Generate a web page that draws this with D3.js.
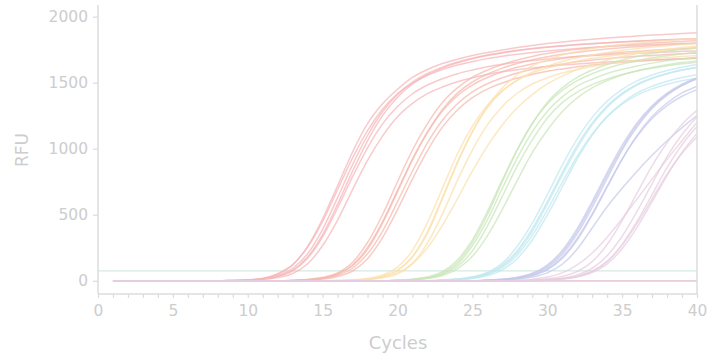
<!DOCTYPE html>
<html>
<head>
<meta charset="utf-8">
<script src="https://cdn.jsdelivr.net/npm/d3@7"></script>
<style>
  body { margin: 0; background: #fff; }
  svg { display: block; font-family: "DejaVu Sans", Verdana, sans-serif; }
</style>
</head>
<body>
<svg id="chart" width="717" height="353"></svg>
<script>
const cycles = [1,2,3,4,5,6,7,8,9,10,11,12,13,14,15,16,17,18,19,20,21,22,23,24,25,26,27,28,29,30,31,32,33,34,35,36,37,38,39,40];
const xTickLabels = [0, 5, 10, 15, 20, 25, 30, 35, 40];
const yTickLabels = [0, 500, 1000, 1500, 2000];
const threshold = 75;

// RFU per cycle (1..40)
const group1 = [
  [0,0,0,0,0,0,0,0,3,6,16,50,120,260,470,720,975,1190,1340,1450,1540,1600,1645,1678,1705,1728,1748,1766,1782,1796,1808,1819,1829,1838,1846,1853,1860,1866,1872,1877],
  [0,0,0,0,0,0,0,0,2,5,14,35,80,180,350,580,830,1060,1250,1390,1490,1560,1610,1650,1680,1705,1725,1742,1756,1768,1778,1787,1795,1802,1808,1814,1819,1824,1828,1832],
  [0,0,0,0,0,0,0,0,2,5,13,33,76,171,333,551,789,1007,1188,1320,1416,1482,1530,1568,1596,1620,1639,1655,1668,1680,1689,1698,1705,1712,1718,1723,1728,1733,1737,1740],
  [0,0,0,0,0,0,0,0,3,7,20,54,122,255,450,690,930,1137,1299,1416,1497,1555,1599,1634,1659,1682,1700,1716,1729,1740,1750,1759,1766,1773,1779,1784,1789,1793,1797,1800],
  [0,0,0,0,0,0,0,0,0,4,9,24,55,129,267,460,690,911,1095,1242,1343,1417,1467,1507,1537,1562,1582,1598,1612,1623,1633,1641,1649,1656,1662,1667,1672,1676,1681,1685],
  [0,0,0,0,0,0,0,0,0,6,15,42,95,205,390,630,880,1100,1280,1410,1505,1570,1618,1656,1685,1709,1728,1745,1759,1770,1780,1789,1796,1803,1809,1815,1820,1825,1829,1833]
];
const group2 = [
  [0,0,0,0,0,0,0,0,0,0,0,0,3,9,21,53,121,252,446,684,922,1125,1285,1402,1482,1539,1583,1617,1642,1665,1682,1698,1709,1720,1730,1737,1745,1751,1757,1762],
  [0,0,0,0,0,0,0,0,0,0,0,0,0,6,17,42,95,204,375,599,831,1045,1216,1340,1430,1492,1537,1573,1601,1624,1642,1658,1671,1682,1691,1700,1706,1713,1719,1724],
  [0,0,0,0,0,0,0,0,0,0,0,0,4,10,26,60,140,290,500,750,990,1190,1350,1460,1540,1595,1638,1671,1698,1720,1737,1752,1764,1775,1784,1792,1800,1806,1812,1818],
  [0,0,0,0,0,0,0,0,0,0,0,0,2,5,13,33,74,167,326,539,772,986,1163,1293,1386,1451,1497,1535,1562,1586,1604,1620,1633,1644,1654,1662,1669,1676,1681,1687],
  [0,0,0,0,0,0,0,0,0,0,0,0,0,8,20,50,114,238,436,673,916,1124,1297,1421,1505,1564,1610,1645,1673,1696,1715,1731,1743,1754,1764,1772,1780,1787,1793,1798]
];
const group3 = [
  [0,0,0,0,0,0,0,0,0,0,0,0,0,0,0,2,5,14,35,80,185,370,630,900,1130,1310,1435,1520,1580,1625,1660,1688,1710,1729,1745,1758,1769,1779,1788,1795],
  [0,0,0,0,0,0,0,0,0,0,0,0,0,0,0,4,7,18,45,103,230,440,700,960,1170,1330,1440,1518,1572,1610,1640,1664,1684,1700,1714,1726,1736,1745,1753,1761],
  [0,0,0,0,0,0,0,0,0,0,0,0,0,0,0,0,4,9,24,52,130,285,505,760,990,1180,1320,1420,1490,1537,1573,1600,1623,1642,1657,1670,1681,1690,1698,1704],
  [0,0,0,0,0,0,0,0,0,0,0,0,0,0,0,0,4,10,25,60,130,250,420,620,830,1020,1180,1310,1410,1490,1550,1600,1640,1672,1698,1720,1738,1753,1766,1777],
  [0,0,0,0,0,0,0,0,0,0,0,0,0,0,0,0,5,13,32,77,180,360,620,890,1130,1320,1460,1560,1627,1675,1710,1737,1758,1775,1789,1801,1811,1820,1827,1833]
];
const group4 = [
  [0,0,0,0,0,0,0,0,0,0,0,0,0,0,0,0,0,0,0,4,9,23,53,125,264,461,701,931,1128,1282,1392,1474,1526,1569,1601,1627,1648,1666,1680,1692],
  [0,0,0,0,0,0,0,0,0,0,0,0,0,0,0,0,0,0,0,4,12,29,69,157,309,524,764,995,1191,1338,1441,1515,1568,1609,1641,1666,1688,1704,1718,1731],
  [0,0,0,0,0,0,0,0,0,0,0,0,0,0,0,0,0,0,0,3,8,19,47,108,226,414,639,870,1067,1231,1349,1429,1485,1528,1562,1589,1610,1628,1643,1655],
  [0,0,0,0,0,0,0,0,0,0,0,0,0,0,0,0,0,0,0,3,7,17,40,90,185,340,540,760,970,1140,1280,1385,1460,1515,1558,1590,1615,1636,1652,1665],
  [0,0,0,0,0,0,0,0,0,0,0,0,0,0,0,0,0,0,0,4,10,26,60,140,290,500,750,990,1190,1350,1460,1540,1595,1638,1671,1698,1720,1737,1752,1764]
];
const group5 = [
  [0,0,0,0,0,0,0,0,0,0,0,0,0,0,0,0,0,0,0,0,0,0,5,11,24,53,110,215,375,580,800,1005,1180,1315,1412,1482,1531,1567,1594,1615],
  [0,0,0,0,0,0,0,0,0,0,0,0,0,0,0,0,0,0,0,0,0,0,6,13,30,64,134,261,436,651,874,1074,1237,1360,1450,1514,1558,1592,1617,1637],
  [0,0,0,0,0,0,0,0,0,0,0,0,0,0,0,0,0,0,0,0,0,0,3,8,17,40,83,169,309,497,710,922,1101,1243,1346,1422,1473,1511,1539,1562],
  [0,0,0,0,0,0,0,0,0,0,0,0,0,0,0,0,0,0,0,0,0,0,5,11,26,57,119,230,395,600,820,1025,1195,1325,1420,1488,1535,1570,1597,1617],
  [0,0,0,0,0,0,0,0,0,0,0,0,0,0,0,0,0,0,0,0,0,0,4,10,22,48,100,196,344,536,745,943,1112,1243,1338,1406,1453,1488,1514,1534]
];
const group6 = [
  [0,0,0,0,0,0,0,0,0,0,0,0,0,0,0,0,0,0,0,0,0,0,0,0,0,4,10,21,47,100,200,355,555,775,990,1165,1305,1405,1477,1527],
  [0,0,0,0,0,0,0,0,0,0,0,0,0,0,0,0,0,0,0,0,0,0,0,0,0,5,11,26,57,119,230,395,600,820,1025,1195,1325,1420,1488,1535],
  [0,0,0,0,0,0,0,0,0,0,0,0,0,0,0,0,0,0,0,0,0,0,0,0,0,3,8,18,40,83,169,309,497,710,922,1101,1243,1346,1422,1473],
  [0,0,0,0,0,0,0,0,0,0,0,0,0,0,0,0,0,0,0,0,0,0,0,0,0,4,8,18,41,89,179,321,507,716,920,1093,1228,1326,1397,1447],
  [0,0,0,0,0,0,0,0,0,0,0,0,0,0,0,0,0,0,0,0,0,0,0,0,0,5,11,24,53,110,215,375,580,800,1005,1180,1315,1412,1482,1531],
  [0,0,0,0,0,0,0,0,0,0,0,0,0,0,0,0,0,0,0,0,0,0,0,0,0,0,5,12,28,60,125,240,400,560,700,830,950,1060,1160,1250]
];
const group7 = [
  [0,0,0,0,0,0,0,0,0,0,0,0,0,0,0,0,0,0,0,0,0,0,0,0,0,0,0,0,7,15,33,70,145,275,455,665,870,1045,1185,1290],
  [0,0,0,0,0,0,0,0,0,0,0,0,0,0,0,0,0,0,0,0,0,0,0,0,0,0,0,0,4,10,20,45,95,190,337,527,736,940,1107,1240],
  [0,0,0,0,0,0,0,0,0,0,0,0,0,0,0,0,0,0,0,0,0,0,0,0,0,0,0,0,0,6,15,34,72,147,276,451,653,856,1030,1168],
  [0,0,0,0,0,0,0,0,0,0,0,0,0,0,0,0,0,0,0,0,0,0,0,0,0,0,0,0,0,5,13,29,63,128,243,405,599,797,972,1116],
  [0,0,0,0,0,0,0,0,0,0,0,0,0,0,0,0,0,0,0,0,0,0,0,0,0,0,0,5,12,28,60,120,210,330,470,620,770,920,1060,1200],
  [0,0,0,0,0,0,0,0,0,0,0,0,0,0,0,0,0,0,0,0,0,0,0,0,0,0,0,0,0,7,14,34,72,146,268,434,621,808,965,1088]
];
const negatives = [
  [0,0,0,0,0,0,0,0,0,0,0,0,0,0,0,0,0,0,0,0,0,0,0,0,0,0,0,0,0,0,0,0,0,0,0,0,0,0,0,0],
  [-2,-2,-1,-1,-1,-2,-2,-1,-1,-1,-2,-2,-2,-1,-1,-1,-1,-2,-2,-2,-1,-1,-1,-2,-2,-1,-1,-1,-2,-2,-1,-1,-1,-1,-2,-2,-1,-1,-1,-1]
];

const groups = [group1, group2, group3, group4, group5, group6, group7];
const groupColors = ["#f5b5b9", "#f5b9ae", "#fbe0ac", "#c9e6b8", "#bfe7f0", "#c6c9ea", "#e7cde1"];

const svg = d3.select("#chart");
const x = d3.scaleLinear().domain([0, 40]).range([98, 697]);
const y = d3.scaleLinear().domain([-100, 2088]).range([294, 5]);

const axisColor = "#dcdcdc";
const textColor = "#cdcdcd";

// threshold
svg.append("line")
  .attr("x1", x(0)).attr("x2", x(40))
  .attr("y1", y(threshold)).attr("y2", y(threshold))
  .attr("stroke", "#d5e9e1").attr("stroke-width", 1.4);

const line = d3.line()
  .x((d, i) => x(cycles[i]))
  .y(d => y(d))
  .curve(d3.curveMonotoneX);

// negatives
negatives.forEach((vals, i) => {
  svg.append("path")
    .attr("d", line(vals))
    .attr("fill", "none")
    .attr("stroke", i === 0 ? "#f1c3c6" : "#e5d0e2")
    .attr("stroke-width", 1.5)
    .attr("stroke-opacity", 0.9);
});

groups.forEach((g, gi) => {
  g.forEach(vals => {
    svg.append("path")
      .attr("d", line(vals))
      .attr("fill", "none")
      .attr("stroke", groupColors[gi])
      .attr("stroke-width", 1.5)
      .attr("stroke-opacity", 0.72);
  });
});

// axes
const yAxis = svg.append("g")
  .attr("transform", `translate(${x(0)},0)`)
  .call(d3.axisLeft(y).tickValues(yTickLabels).tickFormat(d3.format("d"))
    .tickSize(5).tickPadding(5));
const xAxis = svg.append("g")
  .attr("transform", `translate(0,${y(-100)})`)
  .call(d3.axisBottom(x).tickValues(cycles.concat([0]))
    .tickFormat(d => xTickLabels.includes(d) ? d : "")
    .tickSize(4).tickPadding(7));

[yAxis, xAxis].forEach(a => {
  a.attr("font-family", null).attr("font-size", null);
  a.select(".domain").attr("stroke", axisColor).attr("stroke-width", 1.5);
  a.selectAll(".tick line").attr("stroke", axisColor).attr("stroke-width", 1.2);
  a.selectAll(".tick text").attr("fill", textColor)
    .style("font-size", "15.5px")
    .style("font-family", "'DejaVu Sans', Verdana, sans-serif");
});
yAxis.select(".domain").attr("d", `M0,${y(-100)}V${y(2088)}`);
xAxis.select(".domain").attr("d", `M${x(0)},0H${x(40)}`);

// right border
svg.append("line")
  .attr("x1", x(40)).attr("x2", x(40))
  .attr("y1", y(2088)).attr("y2", y(-100))
  .attr("stroke", axisColor).attr("stroke-width", 1.5);

svg.append("text")
  .attr("transform", `translate(28,150) rotate(-90)`)
  .attr("text-anchor", "middle")
  .attr("fill", textColor)
  .style("font-size", "17px")
  .text("RFU");

svg.append("text")
  .attr("x", 398).attr("y", 349)
  .attr("text-anchor", "middle")
  .attr("fill", textColor)
  .style("font-size", "18px")
  .text("Cycles");
</script>
</body>
</html>
